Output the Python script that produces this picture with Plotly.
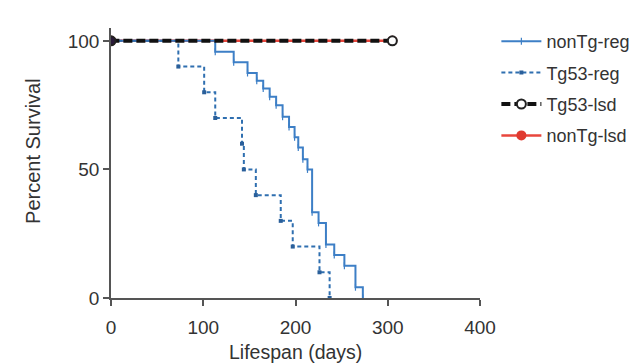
import plotly.graph_objects as go

# Kaplan-Meier style survival data
nontg_reg_days = [0, 113, 133, 148, 158, 165, 172, 179, 186, 193, 199, 203, 208, 213, 218, 225, 233, 242, 253, 265, 273]
nontg_reg_surv = [100, 95.8, 91.7, 87.5, 84.5, 81.5, 78.3, 75, 70.5, 66.5, 62.5, 58.5, 54, 50, 33.3, 29.2, 20.8, 16.7, 12.5, 4.2, 0]

tg53_reg_days = [0, 73, 101, 113, 142, 144, 157, 184, 197, 226, 237]
tg53_reg_surv = [100, 90, 80, 70, 60, 50, 40, 30, 20, 10, 0]

# listed end-first so the legend shows the open (white) end marker
tg53_lsd_days = [305, 0]
tg53_lsd_surv = [100, 100]

nontg_lsd_days = [0, 305]
nontg_lsd_surv = [100, 100]

x_ticks = [0, 100, 200, 300, 400]
y_ticks = [0, 50, 100]

BLUE = "#3d7fc6"
FONT = "Liberation Sans, Arial, sans-serif"
TXT = "#333333"

fig = go.Figure()

fig.add_trace(go.Scatter(
    x=nontg_lsd_days, y=nontg_lsd_surv, name="nonTg-lsd", legendgroup="d", legendrank=4,
    mode="lines+markers", line=dict(color="#e8463c", width=2.5),
    marker=dict(symbol="circle", size=10, color="#e03a30"),
))
fig.add_trace(go.Scatter(
    x=nontg_reg_days, y=nontg_reg_surv, name="nonTg-reg", legendgroup="a", legendrank=1,
    mode="lines+markers", line=dict(color=BLUE, width=2, shape="hv"),
    marker=dict(symbol="line-ns", size=5, color=BLUE, line=dict(color=BLUE, width=1.2)),
))
fig.add_trace(go.Scatter(
    x=tg53_reg_days, y=tg53_reg_surv, name="Tg53-reg", legendgroup="b", legendrank=2,
    mode="lines+markers", line=dict(color="#2f6fb0", width=2, shape="hv", dash="4px,3px"),
    marker=dict(symbol="square", size=4, color="#2a5f9a"),
))
fig.add_trace(go.Scatter(
    x=tg53_lsd_days, y=tg53_lsd_surv, name="Tg53-lsd", legendgroup="c", legendrank=3,
    mode="lines+markers", line=dict(color="#111111", width=4, dash="9px,4px"),
    marker=dict(symbol="circle", size=9, color=["white", "#2a1a3a"],
                line=dict(color="#222222", width=2)),
))

axis_common = dict(
    showgrid=False, zeroline=False, showline=True, linecolor="#555555", linewidth=1.5,
    ticks="outside", ticklen=6, tickwidth=1.5, tickcolor="#555555",
    tickfont=dict(family=FONT, size=19, color=TXT),
)

L, R, T, B = 103, 153, 20, 74
W, H = 639, 364
plot_w = W - L - R
plot_h = H - T - B

def px_x(px):
    return (px - L) / plot_w

def px_y(py):
    return (H - B - py) / plot_h

fig.update_layout(
    width=W, height=H,
    margin=dict(l=L, r=R, t=T, b=B),
    paper_bgcolor="white", plot_bgcolor="white",
    xaxis=dict(range=[0, 400], tickvals=x_ticks, ticklabelstandoff=5, **axis_common),
    yaxis=dict(range=[0, 105], tickvals=y_ticks, ticklabelstandoff=0, **axis_common),
    showlegend=True,
    legend=dict(x=px_x(503), y=px_y(15), xanchor="left", yanchor="top",
                font=dict(family=FONT, size=18, color=TXT),
                itemwidth=40, tracegroupgap=5,
                bgcolor="rgba(0,0,0,0)"),
    annotations=[
        dict(text="Percent Survival", x=px_x(22), y=px_y(143), xref="paper", yref="paper",
             xanchor="center", yanchor="middle",
             showarrow=False, textangle=-90, font=dict(family=FONT, size=20, color=TXT)),
        dict(text="Lifespan (days)", x=px_x(295), y=px_y(344), xref="paper", yref="paper",
             xanchor="center", yanchor="middle",
             showarrow=False, font=dict(family=FONT, size=19.5, color=TXT)),
    ],
)

fig.write_html("out.html")
